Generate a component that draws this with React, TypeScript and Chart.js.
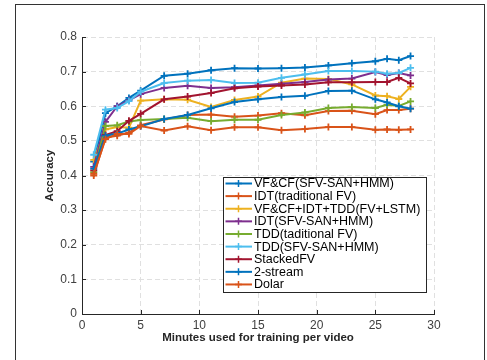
import React, { useEffect, useRef } from "react";
import { Chart, registerables } from "chart.js";

Chart.register(...registerables);

const minutes = [1, 2, 3, 4, 5, 7, 9, 11, 13, 15, 17, 19, 21, 23, 25, 26, 27, 28];

const seriesNames = [
  "VF&CF(SFV-SAN+HMM)",
  "IDT(traditional FV)",
  "VF&CF+IDT+TDD(FV+LSTM)",
  "IDT(SFV-SAN+HMM)",
  "TDD(taditional FV)",
  "TDD(SFV-SAN+HMM)",
  "StackedFV",
  "2-stream",
  "Dolar",
];

const vfcfSan = [0.44, 0.58, 0.6, 0.624, 0.645, 0.688, 0.694, 0.704, 0.71, 0.709, 0.71, 0.712, 0.718, 0.724, 0.73, 0.737, 0.733, 0.745];
const idtFv = [0.4, 0.51, 0.515, 0.524, 0.545, 0.562, 0.575, 0.576, 0.57, 0.573, 0.58, 0.574, 0.586, 0.587, 0.577, 0.589, 0.589, 0.593];
const fusionLstm = [0.445, 0.533, 0.54, 0.538, 0.616, 0.62, 0.619, 0.598, 0.618, 0.628, 0.668, 0.68, 0.679, 0.663, 0.631, 0.629, 0.621, 0.656];
const idtSan = [0.425, 0.555, 0.6, 0.617, 0.635, 0.653, 0.659, 0.653, 0.655, 0.66, 0.665, 0.67, 0.677, 0.68, 0.699, 0.69, 0.696, 0.689];
const tddFv = [0.41, 0.543, 0.545, 0.556, 0.56, 0.563, 0.567, 0.557, 0.561, 0.561, 0.575, 0.582, 0.595, 0.598, 0.595, 0.604, 0.601, 0.614];
const tddSan = [0.46, 0.59, 0.595, 0.615, 0.642, 0.667, 0.674, 0.676, 0.667, 0.668, 0.682, 0.692, 0.702, 0.702, 0.7, 0.694, 0.696, 0.711];
const stackedFv = [0.415, 0.517, 0.528, 0.558, 0.578, 0.62, 0.628, 0.638, 0.652, 0.657, 0.66, 0.663, 0.669, 0.669, 0.67, 0.67, 0.682, 0.666];
const twoStream = [0.42, 0.515, 0.521, 0.533, 0.542, 0.563, 0.575, 0.594, 0.612, 0.62, 0.627, 0.63, 0.644, 0.645, 0.62, 0.611, 0.6, 0.593];
const dolar = [0.405, 0.505, 0.52, 0.52, 0.543, 0.53, 0.542, 0.531, 0.539, 0.539, 0.531, 0.534, 0.54, 0.54, 0.532, 0.533, 0.532, 0.533];

const seriesValues = [vfcfSan, idtFv, fusionLstm, idtSan, tddFv, tddSan, stackedFv, twoStream, dolar];

const seriesColors = [
  "#0072BD",
  "#D95319",
  "#EDB120",
  "#7E2F8E",
  "#77AC30",
  "#4DBEEE",
  "#A2142F",
  "#0072BD",
  "#D95319",
];

const xTicks = [0, 5, 10, 15, 20, 25, 30];
const yTicks = [0, 0.1, 0.2, 0.3, 0.4, 0.5, 0.6, 0.7, 0.8];
const xTitle = "Minutes used for training per video";
const yTitle = "Accuracy";

const FONT = '"Liberation Sans", Arial, Helvetica, sans-serif';
const AXIS_COLOR = "#262626";
const TICK_COLOR = "#404040";

const overlayPlugin = {
  id: "overlay",
  afterDraw(chart: any) {
    const { ctx, chartArea: a, scales } = chart;
    ctx.save();
    // inward tick marks
    ctx.strokeStyle = AXIS_COLOR;
    ctx.lineWidth = 1;
    scales.y.ticks.forEach((t: any) => {
      const y = Math.round(scales.y.getPixelForValue(t.value)) + 0.5;
      ctx.beginPath();
      ctx.moveTo(a.left, y);
      ctx.lineTo(a.left + 4, y);
      ctx.stroke();
    });
    scales.x.ticks.forEach((t: any) => {
      const x = Math.round(scales.x.getPixelForValue(t.value)) + 0.5;
      ctx.beginPath();
      ctx.moveTo(x, a.bottom);
      ctx.lineTo(x, a.bottom - 4);
      ctx.stroke();
    });

    // axis titles
    ctx.fillStyle = AXIS_COLOR;
    ctx.font = `bold 11.5px ${FONT}`;
    ctx.textAlign = "center";
    ctx.textBaseline = "middle";
    ctx.fillText(xTitle, (a.left + a.right) / 2, a.bottom + 24);
    ctx.save();
    ctx.translate(a.left - 32, (a.top + a.bottom) / 2);
    ctx.rotate(-Math.PI / 2);
    ctx.fillText(yTitle, 0, 0);
    ctx.restore();

    // legend box
    const bx = a.left + 141;
    const by = a.top + 140;
    const bw = 203;
    const bh = 115;
    ctx.fillStyle = "#ffffff";
    ctx.fillRect(bx, by, bw, bh);
    ctx.strokeStyle = AXIS_COLOR;
    ctx.lineWidth = 1;
    ctx.strokeRect(Math.round(bx) + 0.5, Math.round(by) + 0.5, bw, bh);

    ctx.font = `12.5px ${FONT}`;
    ctx.textAlign = "left";
    ctx.textBaseline = "middle";
    chart.data.datasets.forEach((ds: any, i: number) => {
      const cy = by + 6.5 + i * 12.62;
      ctx.strokeStyle = ds.borderColor;
      ctx.lineWidth = 2;
      ctx.beginPath();
      ctx.moveTo(bx + 2.5, cy);
      ctx.lineTo(bx + 29, cy);
      ctx.stroke();
      ctx.lineWidth = 1.5;
      ctx.beginPath();
      ctx.moveTo(bx + 15.5, cy - 3.5);
      ctx.lineTo(bx + 15.5, cy + 3.5);
      ctx.moveTo(bx + 12, cy);
      ctx.lineTo(bx + 19, cy);
      ctx.stroke();
      ctx.fillStyle = "#000000";
      ctx.fillText(ds.label, bx + 31, cy + 0.5);
    });
    ctx.restore();
  },
};

export default function App() {
  const canvasRef = useRef<HTMLCanvasElement | null>(null);

  useEffect(() => {
    const canvas = canvasRef.current;
    if (!canvas) return;
    const datasets = seriesNames.map((name, i) => ({
      label: name,
      data: minutes.map((m, j) => ({ x: m, y: seriesValues[i][j] })),
      borderColor: seriesColors[i],
      backgroundColor: seriesColors[i],
      borderWidth: 2,
      pointStyle: "cross",
      pointRadius: 3.5,
      pointBorderWidth: 1.8,
      pointHoverRadius: 3.5,
      tension: 0,
      fill: false,
      order: seriesNames.length - i,
    }));

    const chart = new Chart(canvas, {
      type: "line",
      data: { datasets },
      options: {
        animation: false,
        responsive: false,
        maintainAspectRatio: false,
        events: [],
        layout: { padding: { left: 0, top: 37, right: 53, bottom: 0 } },
        plugins: {
          legend: { display: false },
          tooltip: { enabled: false },
          title: { display: false },
        },
        scales: {
          x: {
            type: "linear",
            min: 0,
            max: 30,
            afterBuildTicks: (scale: any) => {
              scale.ticks = xTicks.map((v) => ({ value: v }));
            },
            afterFit: (scale: any) => {
              scale.height = 46;
            },
            ticks: {
              color: TICK_COLOR,
              font: { family: FONT, size: 12 },
              padding: 4,
              maxRotation: 0,
              callback: (v: any) => String(v),
            },
            grid: {
              color: "#e0e0e0",
              lineWidth: 1,
              drawTicks: false,
            },
            border: { display: true, color: AXIS_COLOR, width: 1, dash: [5, 3] },
          },
          y: {
            type: "linear",
            min: 0,
            max: 0.8,
            afterBuildTicks: (scale: any) => {
              scale.ticks = yTicks.map((v) => ({ value: v }));
            },
            afterFit: (scale: any) => {
              scale.width = 82;
            },
            ticks: {
              color: TICK_COLOR,
              font: { family: FONT, size: 12 },
              padding: 5,
              callback: (v: any) => (Number(v) === 0 ? "0" : Number(v).toFixed(1)),
            },
            grid: {
              color: "#e0e0e0",
              lineWidth: 1,
              drawTicks: false,
            },
            border: { display: true, color: AXIS_COLOR, width: 1, dash: [5, 3] },
          },
        },
      },
      plugins: [overlayPlugin],
    } as any);

    return () => {
      chart.destroy();
    };
  }, []);

  return (
    <div
      style={{
        position: "fixed",
        left: 0,
        top: 0,
        width: 487,
        height: 360,
        background: "#ffffff",
        overflow: "hidden",
      }}
    >
      <div
        style={{
          position: "absolute",
          left: 15,
          top: 4,
          width: 470,
          height: 362,
          border: "1px solid #333333",
          boxSizing: "border-box",
        }}
      />
      <canvas
        ref={canvasRef}
        width={487}
        height={360}
        style={{ position: "absolute", left: 0, top: 0, width: 487, height: 360 }}
      />
    </div>
  );
}
